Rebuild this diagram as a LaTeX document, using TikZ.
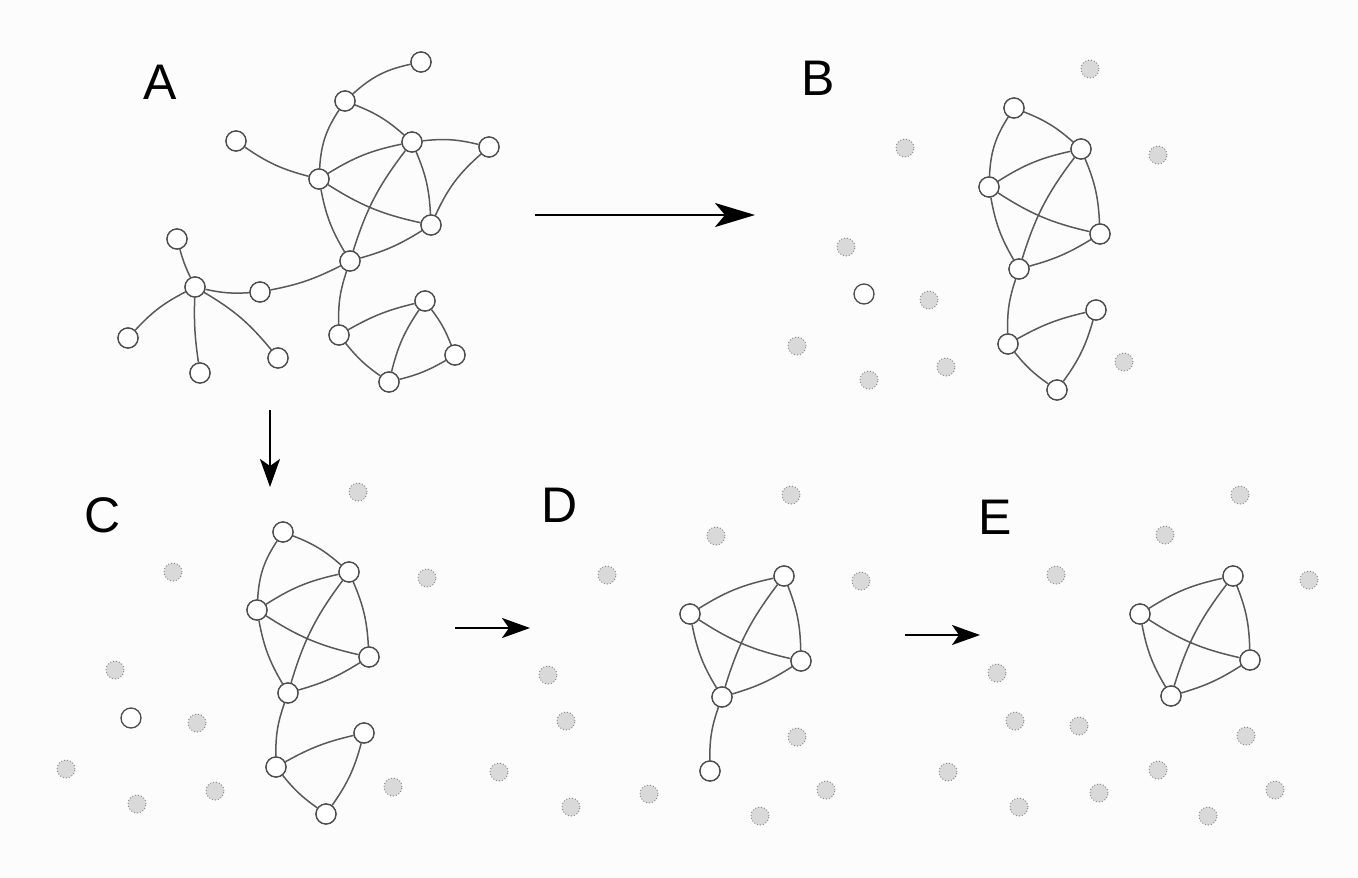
\documentclass[tikz,border=0pt]{standalone}
\usepackage{fontspec}
\setmainfont{Liberation Sans}
\usetikzlibrary{arrows.meta}
\begin{document}
\begin{tikzpicture}[x=1pt,y=-1pt,
  nd/.style={circle,draw=black!70,fill=white,line width=1.3pt,minimum size=20pt,inner sep=0pt},
  gd/.style={circle,draw=black!45,dotted,fill=black!15,line width=1pt,minimum size=18pt,inner sep=0pt},
  ed/.style={draw=black!65,line width=1.5pt},
  ar/.style={draw=black,line width=2.2pt,-{Stealth[length=40pt,width=24pt,inset=10pt]}},
  sar/.style={draw=black,line width=2.2pt,-{Stealth[length=28pt,width=20pt,inset=7pt]}},
  lb/.style={font=\fontsize{50}{50}\selectfont,anchor=center}]
\useasboundingbox (0,0) rectangle (1358,878);
\fill[black!1] (0,0) rectangle (1358,878);
% labels
\node[lb] (LA) at (160,82) {A};
\node[lb] (LB) at (818,78) {B};
\node[lb] (LC) at (103,515) {C};
\node[lb] (LD) at (560,505) {D};
\node[lb] (LE) at (995,517) {E};
% ---- A
\foreach \n/\x/\y in {1/421/62,2/345/101,3/236/141,4/412/142,5/489/147,6/319/179,7/431/225,8/177/239,9/350/261,10/195/287,11/260/292,12/128/338,13/278/358,14/200/373,15/339/335,16/425/301,17/455/355,18/389/382}
  \node[nd] (a\n) at (\x,\y) {};
\path[ed] (a2) to[bend left=15] (a1) (a2) to[bend left=10] (a4) (a2) to[bend right=15] (a6)
 (a3) to[bend right=10] (a6) (a6) to[bend left=10] (a4) (a6) to[bend right=10] (a7)
 (a6) to[bend right=10] (a9) (a4) to[bend left=10] (a5) (a4) to[bend left=10] (a7)
 (a4) to[bend right=10] (a9) (a5) to[bend right=12] (a7) (a7) to[bend left=8] (a9)
 (a9) to[bend left=8] (a11) (a11) to[bend left=8] (a10) (a10) to[bend left=5] (a8)
 (a10) to[bend right=10] (a12) (a10) to[bend right=5] (a14) (a10) to[bend left=10] (a13)
 (a9) to[bend right=10] (a15) (a15) to[bend left=8] (a16) (a15) to[bend right=8] (a18)
 (a16) to[bend right=10] (a18) (a16) to[bend left=8] (a17) (a17) to[bend left=8] (a18);
\foreach \n in {1,...,18} \node[nd] at (a\n) {};
% ---- B
\foreach \x/\y [count=\i] in {1090/69,905/148,1158/155,846/247,929/300,797/346,869/380,946/367,1124/362}
  \node[gd] (bg\i) at (\x,\y) {};
\node[nd] (bf) at (864,294) {};
\foreach \n/\x/\y in {1/1014/108,2/1081/149,3/989/187,4/1100/234,5/1019/269,6/1096/310,7/1008/344,8/1057/390}
  \node[nd] (b\n) at (\x,\y) {};
\path[ed] (b1) to[bend left=10] (b2) (b1) to[bend right=15] (b3) (b3) to[bend left=10] (b2)
 (b3) to[bend right=10] (b4) (b3) to[bend right=10] (b5) (b2) to[bend left=10] (b4)
 (b2) to[bend right=10] (b5) (b4) to[bend left=8] (b5) (b5) to[bend right=10] (b7)
 (b7) to[bend left=8] (b6) (b7) to[bend right=8] (b8) (b6) to[bend left=10] (b8);
\foreach \n in {1,...,8} \node[nd] at (b\n) {};
% ---- C
\foreach \x/\y [count=\i] in {358/492,173/572,427/578,115/670,197/723,66/769,137/804,215/791,393/787}
  \node[gd] (cg\i) at (\x,\y) {};
\node[nd] (cf) at (131,718) {};
\foreach \n/\x/\y in {1/283/532,2/349/572,3/257/610,4/369/657,5/288/693,6/364/733,7/276/767,8/326/814}
  \node[nd] (c\n) at (\x,\y) {};
\path[ed] (c1) to[bend left=10] (c2) (c1) to[bend right=15] (c3) (c3) to[bend left=10] (c2)
 (c3) to[bend right=10] (c4) (c3) to[bend right=10] (c5) (c2) to[bend left=10] (c4)
 (c2) to[bend right=10] (c5) (c4) to[bend left=8] (c5) (c5) to[bend right=10] (c7)
 (c7) to[bend left=8] (c6) (c7) to[bend right=8] (c8) (c6) to[bend left=10] (c8);
\foreach \n in {1,...,8} \node[nd] at (c\n) {};
% ---- D
\foreach \x/\y [count=\i] in {791/495,716/536,607/575,861/581,548/675,566/721,797/737,499/772,649/794,826/790,571/807,760/816}
  \node[gd] (dg\i) at (\x,\y) {};
\foreach \n/\x/\y in {1/784/576,2/690/614,3/801/661,4/722/697,5/710/771}
  \node[nd] (d\n) at (\x,\y) {};
\path[ed] (d2) to[bend left=10] (d1) (d1) to[bend left=10] (d3) (d1) to[bend right=10] (d4)
 (d2) to[bend right=10] (d3) (d2) to[bend right=10] (d4) (d3) to[bend left=8] (d4)
 (d4) to[bend right=10] (d5);
\foreach \n in {1,...,5} \node[nd] at (d\n) {};
% ---- E
\foreach \x/\y [count=\i] in {1240/495,1165/535,1056/575,1309/580,997/673,1015/721,1079/726,1246/736,948/772,1158/770,1099/793,1275/790,1019/807,1208/816}
  \node[gd] (eg\i) at (\x,\y) {};
\foreach \n/\x/\y in {1/1233/576,2/1140/614,3/1250/660,4/1171/696}
  \node[nd] (e\n) at (\x,\y) {};
\path[ed] (e2) to[bend left=10] (e1) (e1) to[bend left=10] (e3) (e1) to[bend right=10] (e4)
 (e2) to[bend right=10] (e3) (e2) to[bend right=10] (e4) (e3) to[bend left=8] (e4);
\foreach \n in {1,...,4} \node[nd] at (e\n) {};
% arrows
\coordinate (p1) at (535,215); \coordinate (q1) at (755,215);
\coordinate (p2) at (270,410); \coordinate (q2) at (270,487);
\coordinate (p3) at (455,628); \coordinate (q3) at (530,628);
\coordinate (p4) at (905,635); \coordinate (q4) at (980,635);
\draw[ar] (p1) -- (q1);
\draw[sar] (p2) -- (q2);
\draw[sar] (p3) -- (q3);
\draw[sar] (p4) -- (q4);
\end{tikzpicture}
\end{document}
